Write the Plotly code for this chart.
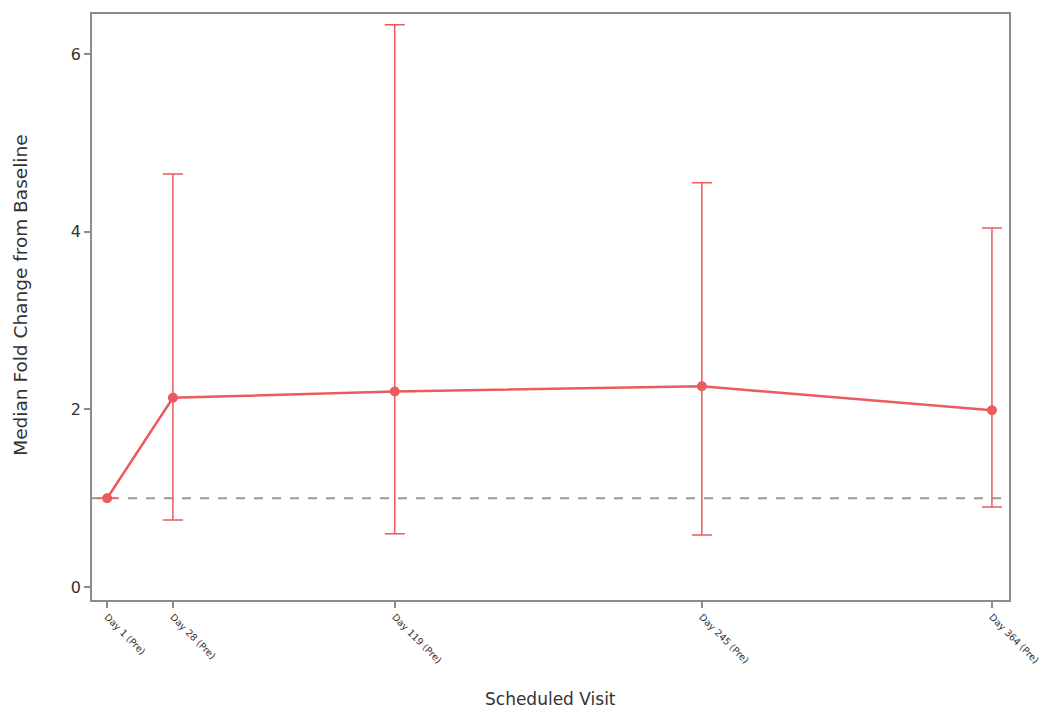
import plotly.graph_objects as go

# Scheduled visits (study day) and their labels
visit_day = [1, 28, 119, 245, 364]
visit_label = ["Day 1 (Pre)", "Day 28 (Pre)", "Day 119 (Pre)", "Day 245 (Pre)", "Day 364 (Pre)"]

# Median fold change from baseline with range
median_fc = [1.0, 2.13, 2.20, 2.26, 1.99]
upper_fc = [1.0, 4.65, 6.33, 4.55, 4.04]
lower_fc = [1.0, 0.755, 0.60, 0.585, 0.90]

err_plus = [u - m for u, m in zip(upper_fc, median_fc)]
err_minus = [m - l for m, l in zip(median_fc, lower_fc)]

red = "#EC5A5C"
text_col = "#333333"
font_family = "DejaVu Sans, Verdana, sans-serif"

fig = go.Figure()

# Baseline reference line at fold change 1
fig.add_hline(y=1, line=dict(color="#9a9a9a", width=2, dash="dash"), layer="below")

fig.add_trace(go.Scatter(
    x=visit_day, y=median_fc,
    mode="lines+markers",
    line=dict(color=red, width=2.5),
    marker=dict(color=red, size=10),
    error_y=dict(
        type="data", symmetric=False,
        array=err_plus, arrayminus=err_minus,
        color=red, thickness=1.5, width=10,
    ),
    showlegend=False,
))

axis_common = dict(
    showline=True, linecolor="#8c8c8c", linewidth=1.5, mirror=True,
    showgrid=False, zeroline=False, automargin=False,
    ticks="outside", ticklen=6, tickcolor="#8c8c8c", tickwidth=1.5,
)

fig.update_layout(
    width=1042, height=710,
    margin=dict(l=92, r=33, t=14, b=110),
    paper_bgcolor="white", plot_bgcolor="white",
    font=dict(family=font_family, color=text_col),
    xaxis=dict(
        **axis_common,
        range=[-5.2, 371],
        tickmode="array", tickvals=visit_day, ticktext=visit_label,
        tickangle=45, tickfont=dict(size=9.5, color=text_col),
    ),
    yaxis=dict(
        **axis_common,
        range=[-0.146, 6.45],
        tickmode="array", tickvals=[0, 2, 4, 6],
        tickfont=dict(size=16, color=text_col),
    ),
)

# Axis titles
fig.add_annotation(
    text="Scheduled Visit", xref="paper", yref="paper",
    x=0.5, y=-0.169, xanchor="center", yanchor="middle",
    showarrow=False, font=dict(size=17, color=text_col),
)
fig.add_annotation(
    text="Median Fold Change from Baseline", xref="paper", yref="paper",
    x=-0.078, y=0.52, xanchor="center", yanchor="middle", textangle=-90,
    showarrow=False, font=dict(size=18.5, color=text_col),
)

fig.write_html("out.html")
